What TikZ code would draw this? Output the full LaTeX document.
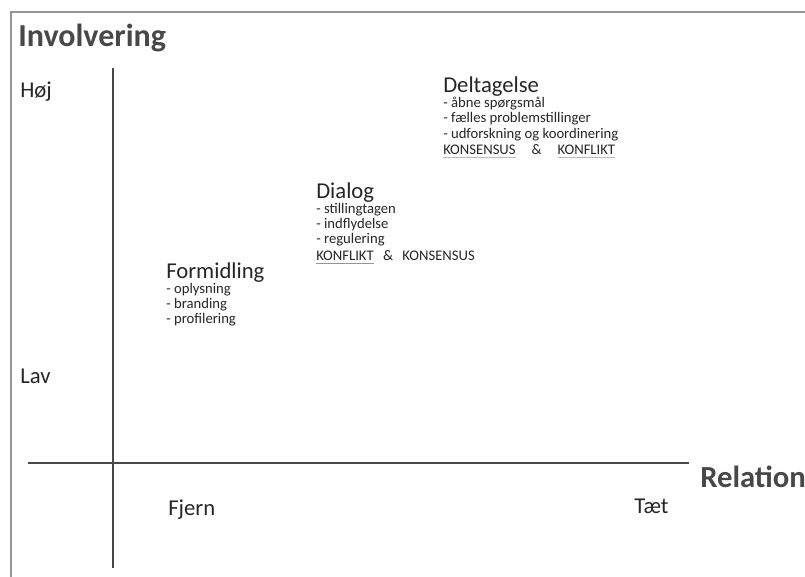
\documentclass[tikz,border=0pt]{standalone}
\usepackage{fontspec}
\setmainfont{Carlito}
\usetikzlibrary{positioning}
\definecolor{inkgray}{RGB}{38,38,38}
\definecolor{axisgray}{RGB}{72,72,72}
\definecolor{framegray}{RGB}{150,150,150}
\definecolor{dtline}{RGB}{205,200,70}
\definecolor{dlline}{RGB}{195,140,75}
\newcommand{\markword}[2]{\setbox0\hbox{#2}\rlap{\color{#1}\rule[-2.4pt]{\wd0}{0.9pt}}\box0}
\tikzset{
  axis/.style={draw=axisgray,line width=2.2pt},
  axistitle/.style={anchor=base west,inner sep=0pt,text=axisgray,font=\fontsize{24}{26}\selectfont\bfseries},
  level/.style={anchor=base west,inner sep=0pt,text=inkgray,font=\fontsize{17}{20}\selectfont},
  formtitle/.style={anchor=base west,inner sep=0pt,text=inkgray,font=\fontsize{17}{20}\selectfont},
  formlist/.style={anchor=north west,inner sep=0pt,align=left,text=inkgray,font=\fontsize{11}{11.6}\selectfont}
}
\begin{document}
\begin{tikzpicture}[x=0.75pt,y=-0.75pt]
  \useasboundingbox[fill=white] (0,0) rectangle (805,576);
  % frame
  \draw[framegray,line width=1.3pt] (11,580) -- (11,12) -- (810,12);
  % axes
  \coordinate (ytop) at (113,68);
  \coordinate (ybot) at (113,568);
  \coordinate (xleft) at (28,463);
  \coordinate (xright) at (689,463);
  \draw[axis] (ytop) -- (ybot);
  \draw[axis] (xleft) -- (xright);
  \node[axistitle] (involvering) at (18,46) {Involvering};
  \node[axistitle,font=\fontsize{23}{26}\selectfont\bfseries] (relation) at (700,487) {Relation};
  \node[level] (hoej) at (20,97) {Høj};
  \node[level] (lav) at (20,383) {Lav};
  \node[level] (fjern) at (168,515) {Fjern};
  \node[level] (taet) at (634,513) {Tæt};
  % the three forms
  \node[formtitle] (formidling) at (166,278) {Formidling};
  \node[formlist,below=0.3pt of formidling.south west,anchor=north west] (formidlinglist)
    {- oplysning\\- branding\\- profilering};
  \node[formtitle] (dialog) at (316,198) {Dialog};
  \node[formlist,below=0.3pt of dialog.south west,anchor=north west] (dialoglist)
    {- stillingtagen\\- indflydelse\\- regulering\\[1pt]\markword{dlline}{KONFLIKT}\hspace{7pt}\&\hspace{7pt}KONSENSUS};
  \node[formtitle] (deltagelse) at (443,92) {Deltagelse};
  \node[formlist,below=0.3pt of deltagelse.south west,anchor=north west] (deltagelselist)
    {- åbne spørgsmål\\- fælles problemstillinger\\- udforskning og koordinering\\[1pt]\markword{dtline}{KONSENSUS}\hspace{12pt}\&\hspace{12pt}\markword{dtline}{KONFLIKT}};
\end{tikzpicture}
\end{document}
